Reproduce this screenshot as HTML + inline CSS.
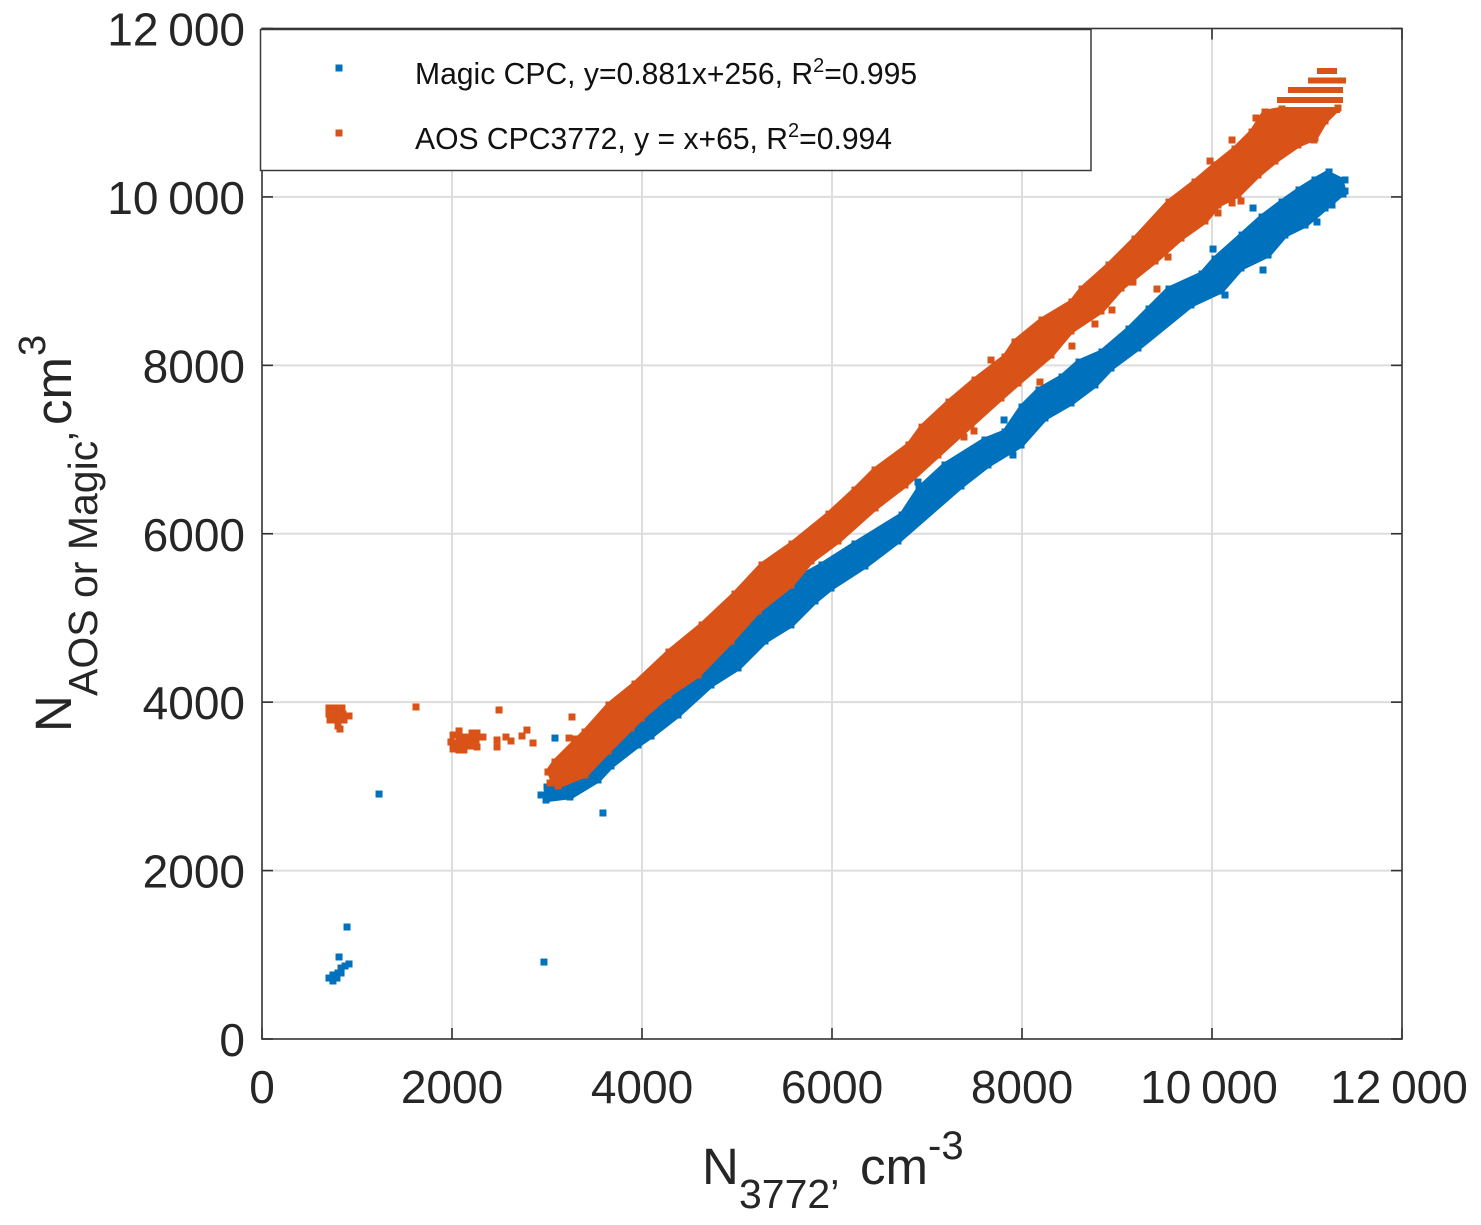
<!DOCTYPE html>
<html lang="en">
<head>
<meta charset="utf-8">
<title>N3772 vs AOS or Magic CPC scatter</title>
<style>
html,body{margin:0;padding:0;background:#fff;}
svg{display:block;font-family:"Liberation Sans",Arial,sans-serif;}
</style>
</head>
<body>
<svg id="chart" xmlns="http://www.w3.org/2000/svg" width="1481" height="1225" viewBox="0 0 1481 1225">
  <rect x="0" y="0" width="1481" height="1225" fill="#fff"/>
  <g id="grid"></g>
  <g id="marks"></g>
  <g id="axes"></g>
  <g id="xticks"></g>
  <g id="yticks"></g>

  <g>
    <rect x="260.5" y="29.5" width="830.5" height="141" fill="#fff" stroke="#3a3a3a" stroke-width="1.5"/>
    <rect x="335.5" y="64.5" width="7" height="7" fill="#0072BD"/>
    <text x="415" y="84" font-size="30.1" fill="#111">Magic CPC, y=0.881x+256, R<tspan dy="-12" font-size="20">2</tspan><tspan dy="12">=0.995</tspan></text>
    <rect x="335.5" y="129.5" width="7" height="7" fill="#D95319"/>
    <text x="415" y="149" font-size="30.1" fill="#111">AOS CPC3772, y = x+65, R<tspan dy="-12" font-size="20">2</tspan><tspan dy="12">=0.994</tspan></text>
  </g>

  <g fill="#262626">
    <text x="702" y="1184" font-size="51">N</text>
    <text x="739" y="1208" font-size="41">3772’</text>
    <text x="860" y="1184" font-size="51">cm</text>
    <text x="928" y="1159" font-size="40">-3</text>
  </g>
  <g fill="#262626">
    <text transform="translate(71,732) rotate(-90)" font-size="51">N</text>
    <text transform="translate(97,696) rotate(-90)" font-size="41">AOS or Magic’</text>
    <text transform="translate(71,425) rotate(-90)" font-size="51">cm</text>
    <text transform="translate(45,356) rotate(-90)" font-size="38">3</text>
  </g>
</svg>

<script>
// Tick values and labels
const xTickValues = [0, 2000, 4000, 6000, 8000, 10000, 12000];
const xTickLabels = ['0', '2000', '4000', '6000', '8000', '10 000', '12 000'];
const yTickValues = [0, 2000, 4000, 6000, 8000, 10000, 12000];
const yTickLabels = ['0', '2000', '4000', '6000', '8000', '10 000', '12 000'];

// Dense Magic CPC cloud: upper and lower envelope
const magicUpperX = [2979,3558,4611,5453,5874,6221,6716,6895,7168,7589,7800,7979,8158,8400,8579,8821,9105,9316,9526,9874,10011,10295,10505,10716,10895,11063,11211,11379];
const magicUpperY = [3016,3610,4738,5391,5653,5902,6246,6555,6840,7137,7232,7529,7731,7885,8063,8182,8455,8693,8930,9108,9286,9571,9785,9963,10106,10225,10320,10225];
const magicLowerX = [2958,3011,3263,3558,3695,3979,4116,4400,4747,5032,5316,5589,5842,6011,6368,6716,7379,7663,8011,8263,8537,8789,8958,9242,9800,10116,10326,10611,10789,11000,11211,11421];
const magicLowerY = [2874,2814,2850,3052,3218,3468,3574,3824,4180,4382,4703,4893,5178,5332,5593,5890,6543,6793,7030,7351,7529,7743,7944,8182,8693,8859,9132,9286,9524,9642,9844,10046];

// Individual Magic CPC points
const magicPointX = [1232,3084,3589,895,811,2968,705,747,789,747,800,832,832,874,916,779,10432,10537,10137,10011,11379,11263,11105,7905,6905,7811];
const magicPointY = [2909,3574,2684,1330,974,914,724,689,724,760,784,784,843,867,891,760,9868,9132,8835,9381,10034,9904,9702,6935,6614,7351];

// Dense AOS CPC3772 cloud: upper and lower envelope
const aosUpperX = [2989,3063,3379,3632,3905,4263,4611,4958,5242,5558,5947,6221,6432,6789,6926,7211,7484,7800,7905,8189,8505,8611,8895,9168,9526,9800,10011,10221,10400,10537,10716];
const aosUpperY = [3194,3313,3669,3990,4239,4619,4940,5308,5653,5902,6258,6543,6781,7078,7290,7588,7849,8123,8301,8562,8776,8930,9215,9524,9963,10201,10403,10593,10794,11032,11068];
const aosLowerX = [3053,3137,3421,3663,3905,4011,4295,4611,4958,5242,5589,5800,6084,6474,6789,7137,7484,7800,7979,8326,8537,8853,9063,9421,9695,9947,10084,10295,10505,10684,10926,11105,11211,11347];
const aosLowerY = [3016,2981,3111,3396,3669,3788,4061,4299,4703,5059,5368,5653,5890,6282,6555,6911,7268,7588,7766,8099,8384,8621,8894,9215,9488,9690,9880,9999,10236,10403,10593,10676,10878,11032];

// Quantised AOS rows at the top end of the cloud
const aosRowY = [11032,11151,11269,11382,11495];
const aosRowStart = [10716,10684,10800,11011,11105];
const aosRowEnd = [11347,11379,11379,11411,11316];

// Individual AOS CPC3772 points (low-concentration clusters and outliers)
const aosPointX = [705,768,842,705,779,853,916,716,789,863,800,821,
  2074,2011,2074,2137,2211,2263,1989,2053,2116,2189,2253,2011,2074,2126,2189,2263,2326,
  1621,2495,3263,2474,2474,2568,2621,2737,2789,2853,3232,3305,
  10463,10211,9979,11074,10305,10211,10063,9537,9421,9158,7674,8189,8526,8768,8947,9168,7389,7495];
const aosPointY = [3931,3931,3931,3859,3859,3859,3836,3788,3788,3788,3717,3681,
  3658,3610,3586,3586,3634,3634,3527,3515,3515,3551,3551,3444,3432,3432,3479,3468,3586,
  3943,3907,3824,3551,3468,3586,3539,3598,3669,3515,3574,3563,
  10937,10676,10426,10676,9951,9928,9809,9286,8906,8989,8063,7802,8229,8491,8657,8989,7149,7220];

const NS = 'http://www.w3.org/2000/svg';
const plotLeft = 262, plotRight = 1402, plotBottom = 1039, plotTop = 28.5;
const axisMax = 12000;
const markerSize = 7;
function xScale(v){ return plotLeft + (v / axisMax) * (plotRight - plotLeft); }
function yScale(v){ return plotBottom - (v / axisMax) * (plotBottom - plotTop); }
function make(tag, attrs, parent){
  const el = document.createElementNS(NS, tag);
  for (const k in attrs) el.setAttribute(k, attrs[k]);
  parent.appendChild(el);
  return el;
}

const gridG = document.getElementById('grid');
const marksG = document.getElementById('marks');
const axesG = document.getElementById('axes');
const xTicksG = document.getElementById('xticks');
const yTicksG = document.getElementById('yticks');

// Grid lines
xTickValues.slice(1, -1).forEach(function(v){
  const l = make('line', {x1: xScale(v), x2: xScale(v), y1: plotTop, y2: plotBottom, stroke: '#dddddd', 'stroke-width': 2}, gridG);
  
  
});
yTickValues.slice(1, -1).forEach(function(v){
  const l = make('line', {x1: plotLeft, x2: plotRight, y1: yScale(v), y2: yScale(v), stroke: '#dddddd', 'stroke-width': 2}, gridG);
  
  
});

// Envelope of a dense cloud
function drawCloud(upperX, upperY, lowerX, lowerY, color, name){
  const pts = [];
  upperX.forEach(function(v, i){ pts.push(xScale(v).toFixed(1) + ',' + yScale(upperY[i]).toFixed(1)); });
  for (let i = lowerX.length - 1; i >= 0; i--) pts.push(xScale(lowerX[i]).toFixed(1) + ',' + yScale(lowerY[i]).toFixed(1));
  const p = make('polygon', {points: pts.join(' '), fill: color}, marksG);
  
  
}
// Square markers tracing an envelope edge; the outer corner sits on the edge value
function drawEdge(xs, ys, shiftX, shiftY, color, name){
  xs.forEach(function(v, i){
    const r = make('rect', {x: xScale(v) - markerSize / 2 + shiftX, y: yScale(ys[i]) - markerSize / 2 + shiftY, width: markerSize, height: markerSize, fill: color}, marksG);
    
    
  });
}
// Individual square markers
function drawPoints(xs, ys, color, name){
  drawEdge(xs, ys, 0, 0, color, name);
}

const blue = '#0072BD', orange = '#D95319';
drawCloud(magicUpperX, magicUpperY, magicLowerX, magicLowerY, blue, 'magic-cpc-point-cloud');
drawEdge(magicUpperX, magicUpperY, 2, 2, blue, 'magic-cpc-edge-point');
drawEdge(magicLowerX, magicLowerY, -2, -2, blue, 'magic-cpc-edge-point');
drawPoints(magicPointX, magicPointY, blue, 'magic-cpc-point');
drawCloud(aosUpperX, aosUpperY, aosLowerX, aosLowerY, orange, 'aos-cpc-point-cloud');
drawEdge(aosUpperX, aosUpperY, 2, 2, orange, 'aos-cpc-edge-point');
drawEdge(aosLowerX, aosLowerY, -2, -2, orange, 'aos-cpc-edge-point');
aosRowY.forEach(function(v, i){
  const l = make('line', {x1: xScale(aosRowStart[i]), x2: xScale(aosRowEnd[i]), y1: yScale(v), y2: yScale(v), stroke: orange, 'stroke-width': 6}, marksG);
  
  
});
drawPoints(aosPointX, aosPointY, orange, 'aos-cpc-point');

// Axes frame
const frame = make('rect', {x: plotLeft, y: plotTop, width: plotRight - plotLeft, height: plotBottom - plotTop, fill: 'none', stroke: '#333333', 'stroke-width': 1.6}, axesG);



const tickLen = 11;
xTickValues.forEach(function(v, i){
  const x = xScale(v);
  const b = make('line', {x1: x, x2: x, y1: plotBottom, y2: plotBottom - tickLen, stroke: '#333333', 'stroke-width': 1.6}, axesG);
  
  
  const t = make('line', {x1: x, x2: x, y1: plotTop, y2: plotTop + tickLen, stroke: '#333333', 'stroke-width': 1.6}, axesG);
  
  
  const txt = make('text', {x: x - (xTickLabels[i].length > 4 ? 3 : 0), y: 1103, 'font-size': 46, 'text-anchor': 'middle', fill: '#262626', 'word-spacing': '-3px'}, xTicksG);
  
  
  txt.textContent = xTickLabels[i];
});
yTickValues.forEach(function(v, i){
  const y = yScale(v);
  const l = make('line', {x1: plotLeft, x2: plotLeft + tickLen, y1: y, y2: y, stroke: '#333333', 'stroke-width': 1.6}, axesG);
  
  
  const r = make('line', {x1: plotRight, x2: plotRight - tickLen, y1: y, y2: y, stroke: '#333333', 'stroke-width': 1.6}, axesG);
  
  
  const txt = make('text', {x: 245, y: y + 17, 'font-size': 46, 'text-anchor': 'end', fill: '#262626', 'word-spacing': '-3px'}, yTicksG);
  
  
  txt.textContent = yTickLabels[i];
});
</script>
</body>
</html>
